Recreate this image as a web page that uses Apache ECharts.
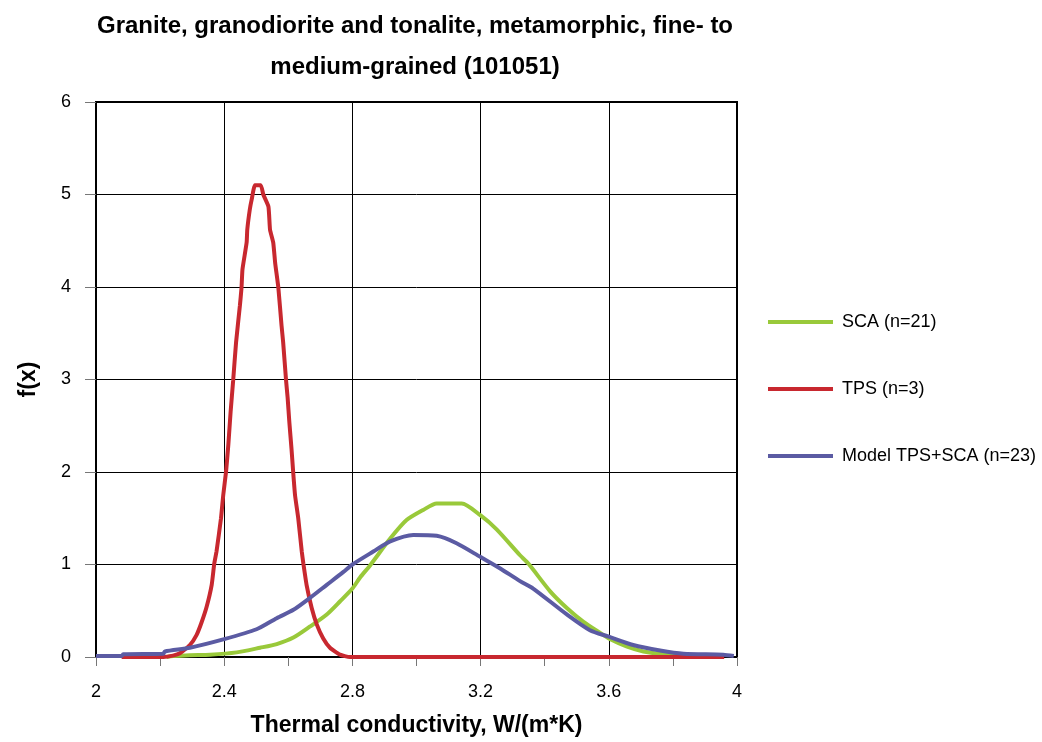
<!DOCTYPE html>
<html>
<head>
<meta charset="utf-8">
<script src="https://cdn.jsdelivr.net/npm/echarts@6/dist/echarts.min.js"></script>
<style>
html,body{margin:0;padding:0;background:#fff;}
#chart{width:1042px;height:742px;}
</style>
</head>
<body>
<div id="chart"></div>
<script>
// ---- data ----
var titleText = 'Granite, granodiorite and tonalite, metamorphic, fine- to\nmedium-grained (101051)';
var xAxisName = 'Thermal conductivity, W/(m*K)';
var yAxisName = 'f(x)';
var seriesNames = ['SCA (n=21)', 'TPS (n=3)', 'Model TPS+SCA (n=23)'];

var scaX = [2.22, 2.241, 2.293, 2.356, 2.439, 2.512, 2.564, 2.616, 2.668, 2.720, 2.761, 2.800, 2.824, 2.855, 2.918, 2.969, 3.021, 3.063, 3.141, 3.200, 3.250, 3.323, 3.349, 3.417, 3.469, 3.521, 3.573, 3.600, 3.655, 3.708, 3.770, 3.833, 3.87];
var scaY = [0, 0.01, 0.02, 0.025, 0.05, 0.10, 0.14, 0.21, 0.33, 0.46, 0.60, 0.74, 0.86, 0.99, 1.28, 1.48, 1.59, 1.66, 1.66, 1.53, 1.38, 1.10, 1.01, 0.71, 0.53, 0.38, 0.26, 0.20, 0.115, 0.06, 0.03, 0.01, 0];

var tpsX = [2.08, 2.21, 2.24, 2.262, 2.293, 2.314, 2.329, 2.345, 2.361, 2.369, 2.376, 2.390, 2.397, 2.406, 2.413, 2.420, 2.428, 2.437, 2.449, 2.454, 2.457, 2.470, 2.472, 2.480, 2.486, 2.496, 2.514, 2.522, 2.538, 2.543, 2.553, 2.559, 2.569, 2.579, 2.584, 2.593, 2.598, 2.603, 2.610, 2.615, 2.621, 2.631, 2.642, 2.647, 2.657, 2.673, 2.689, 2.709, 2.730, 2.761, 2.792, 3.96];
var tpsY = [0, 0, 0.015, 0.04, 0.13, 0.24, 0.37, 0.54, 0.78, 1.01, 1.14, 1.50, 1.75, 2.01, 2.30, 2.65, 2.99, 3.40, 3.80, 3.99, 4.19, 4.48, 4.62, 4.84, 4.95, 5.10, 5.10, 5.00, 4.87, 4.62, 4.48, 4.26, 3.99, 3.58, 3.40, 2.99, 2.80, 2.55, 2.25, 2.01, 1.75, 1.50, 1.14, 1.01, 0.78, 0.53, 0.35, 0.20, 0.10, 0.025, 0, 0];

var modelX = [2.00, 2.08, 2.085, 2.21, 2.215, 2.293, 2.397, 2.501, 2.564, 2.616, 2.668, 2.720, 2.772, 2.800, 2.865, 2.918, 2.990, 3.063, 3.125, 3.200, 3.260, 3.323, 3.364, 3.469, 3.541, 3.600, 3.676, 3.760, 3.833, 3.957, 3.99];
var modelY = [0.01, 0.01, 0.03, 0.035, 0.06, 0.10, 0.19, 0.30, 0.42, 0.51, 0.64, 0.78, 0.92, 1.00, 1.14, 1.25, 1.32, 1.31, 1.23, 1.08, 0.96, 0.82, 0.74, 0.46, 0.29, 0.22, 0.13, 0.07, 0.035, 0.025, 0.01];

function pairs(xs, ys) { return xs.map(function (x, i) { return [x, ys[i]]; }); }

var FONT = "'Liberation Sans', Arial, Helvetica, sans-serif";
var colors = ['#99c93a', '#c8282f', '#5b5ba3'];

var chart = echarts.init(document.getElementById('chart'), null, {renderer: 'canvas'});
chart.setOption({
  backgroundColor: '#fff',
  animation: false,
  title: {
    text: titleText,
    left: 410,
    textAlign: 'center',
    top: 1,
    textStyle: {fontFamily: FONT, fontSize: 24, fontWeight: 'bold', color: '#000', lineHeight: 41}
  },
  legend: {
    orient: 'vertical',
    left: 763,
    top: 307,
    itemWidth: 65,
    itemHeight: 4,
    itemGap: 47,
    icon: 'rect',
    data: seriesNames,
    textStyle: {fontFamily: FONT, fontSize: 18, color: '#000', lineHeight: 20, padding: [0, 0, 0, 4]}
  },
  grid: {
    left: 96, top: 102, width: 641, height: 557,
    show: true, borderColor: '#000', borderWidth: 2, backgroundColor: '#fff'
  },
  xAxis: {
    type: 'value', min: 2, max: 4, interval: 0.4,
    name: xAxisName, nameLocation: 'middle', nameGap: 57,
    nameTextStyle: {fontFamily: FONT, fontSize: 23, fontWeight: 'bold', color: '#000'},
    axisLine: {show: true, lineStyle: {color: '#000', width: 2}},
    axisTick: {show: true, length: 9, lineStyle: {color: '#777', width: 1}},
    minorTick: {show: true, splitNumber: 2, length: 9, lineStyle: {color: '#777', width: 1}},
    splitLine: {show: true, lineStyle: {color: '#000', width: 1}},
    axisLabel: {fontFamily: FONT, fontSize: 18, color: '#000', margin: 26,
      formatter: function (v) { return String(Math.round(v * 10) / 10); }}
  },
  yAxis: {
    type: 'value', min: 0, max: 6, interval: 1,
    name: yAxisName, nameLocation: 'middle', nameGap: 56,
    nameTextStyle: {fontFamily: FONT, fontSize: 23, fontWeight: 'bold', color: '#000'},
    axisLine: {show: true, lineStyle: {color: '#000', width: 2}},
    axisTick: {show: true, length: 11, lineStyle: {color: '#777', width: 1}},
    splitLine: {show: true, lineStyle: {color: '#000', width: 1}},
    axisLabel: {fontFamily: FONT, fontSize: 18, color: '#000', margin: 25}
  },
  series: [
    {name: seriesNames[0], type: 'line', data: pairs(scaX, scaY), showSymbol: false, smooth: 0.25,
     lineStyle: {color: colors[0], width: 4}, itemStyle: {color: colors[0]}},
    {name: seriesNames[1], type: 'line', data: pairs(tpsX, tpsY), showSymbol: false, smooth: 0.15,
     lineStyle: {color: colors[1], width: 4}, itemStyle: {color: colors[1]}},
    {name: seriesNames[2], type: 'line', data: pairs(modelX, modelY), showSymbol: false, smooth: 0.25,
     lineStyle: {color: colors[2], width: 4}, itemStyle: {color: colors[2]}}
  ]
});
</script>
</body>
</html>
